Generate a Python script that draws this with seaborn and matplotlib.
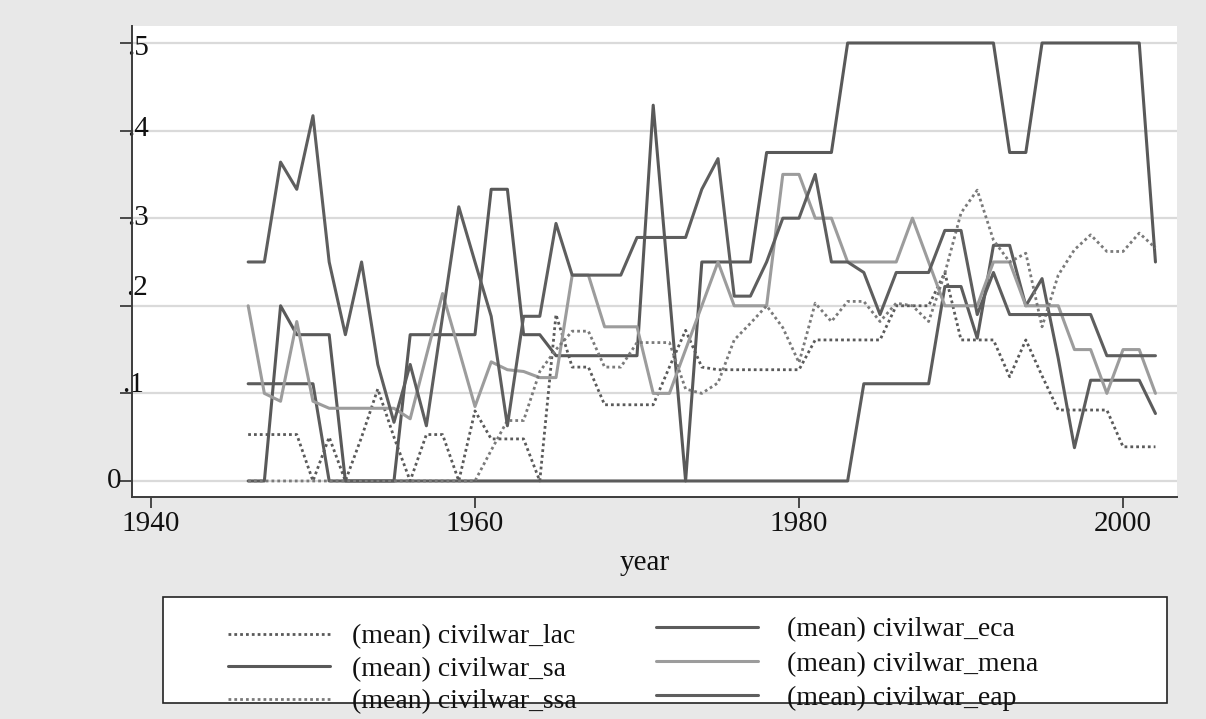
import matplotlib
matplotlib.use("Agg")
import matplotlib.pyplot as plt
import matplotlib.transforms as mtransforms
from matplotlib.lines import Line2D
from matplotlib.patches import Rectangle
import numpy as np
import pandas as pd
import seaborn as sns

# ---- data: yearly regional means of civil war incidence ----
years = list(range(1946, 2003))

civilwar_lac = [0.053, 0.053, 0.053, 0.053, 0.0, 0.05, 0.0, 0.05, 0.105, 0.05,
                0.0, 0.053, 0.053, 0.0, 0.08, 0.048, 0.048, 0.048, 0.0, 0.19,
                0.13, 0.13, 0.087, 0.087, 0.087, 0.087, 0.13, 0.172, 0.13, 0.127,
                0.127, 0.127, 0.127, 0.127, 0.127, 0.161, 0.161, 0.161, 0.161, 0.161,
                0.2, 0.2, 0.2, 0.238, 0.161, 0.161, 0.161, 0.119, 0.161, 0.12,
                0.081, 0.081, 0.081, 0.081, 0.039, 0.039, 0.039]

civilwar_eca = [0.111] * 5 + [0.0] * 33 + [0.111] * 5 + \
               [0.222, 0.222, 0.163, 0.269, 0.269, 0.2, 0.231, 0.14, 0.038,
                0.115, 0.115, 0.115, 0.115, 0.077]

civilwar_sa = [0.0, 0.0, 0.2, 0.167, 0.167, 0.167, 0.0, 0.0, 0.0, 0.0,
               0.167, 0.167, 0.167, 0.167, 0.167, 0.333, 0.333, 0.167, 0.167, 0.143,
               0.143, 0.143, 0.143, 0.143, 0.143, 0.429, 0.214, 0.0, 0.25, 0.25,
               0.25, 0.25, 0.375, 0.375, 0.375, 0.375, 0.375, 0.5, 0.5, 0.5,
               0.5, 0.5, 0.5, 0.5, 0.5, 0.5, 0.5, 0.375, 0.375, 0.5,
               0.5, 0.5, 0.5, 0.5, 0.5, 0.5, 0.25]

civilwar_mena = [0.2, 0.1, 0.091, 0.182, 0.091, 0.083, 0.083, 0.083, 0.083, 0.083,
                 0.071, 0.143, 0.214, 0.15, 0.085, 0.136, 0.127, 0.125, 0.118, 0.118,
                 0.235, 0.235, 0.176, 0.176, 0.176, 0.1, 0.1, 0.15, 0.2, 0.25,
                 0.2, 0.2, 0.2, 0.35, 0.35, 0.3, 0.3, 0.25, 0.25, 0.25,
                 0.25, 0.3, 0.25, 0.2, 0.2, 0.2, 0.25, 0.25, 0.2, 0.2,
                 0.2, 0.15, 0.15, 0.1, 0.15, 0.15, 0.1]

civilwar_ssa = [0.0] * 15 + \
               [0.035, 0.069, 0.069, 0.125, 0.15,
                0.171, 0.171, 0.13, 0.13, 0.158, 0.158, 0.158, 0.105, 0.1, 0.112,
                0.161, 0.18, 0.2, 0.175, 0.135, 0.203, 0.182, 0.205, 0.205, 0.182,
                0.203, 0.2, 0.182, 0.237, 0.306, 0.332, 0.275, 0.25, 0.26, 0.176,
                0.235, 0.264, 0.281, 0.262, 0.262, 0.283, 0.266]

civilwar_eap = [0.25, 0.25, 0.364, 0.333, 0.417, 0.25, 0.167, 0.25, 0.133, 0.067,
                0.133, 0.063, 0.188, 0.313, 0.25, 0.188, 0.063, 0.188, 0.188, 0.294,
                0.235, 0.235, 0.235, 0.235, 0.278, 0.278, 0.278, 0.278, 0.333, 0.368,
                0.211, 0.211, 0.25, 0.3, 0.3, 0.35, 0.25, 0.25, 0.238, 0.19,
                0.238, 0.238, 0.238, 0.286, 0.286, 0.19, 0.238, 0.19, 0.19, 0.19,
                0.19, 0.19, 0.19, 0.143, 0.143, 0.143, 0.143]

series_order = ["lac", "eca", "sa", "mena", "ssa", "eap"]
legend_labels = {k: f"(mean) civilwar_{k}" for k in series_order}
y_ticks = [0.0, 0.1, 0.2, 0.3, 0.4, 0.5]
y_ticklabels = ["0", ".1", ".2", ".3", ".4", ".5"]
x_ticks = [1940, 1960, 1980, 2000]
x_ticklabels = ["1940", "1960", "1980", "2000"]

df = pd.DataFrame({
    "year": years,
    "lac": civilwar_lac,
    "eca": civilwar_eca,
    "sa": civilwar_sa,
    "mena": civilwar_mena,
    "ssa": civilwar_ssa,
    "eap": civilwar_eap,
})
long_df = df.melt(id_vars="year", var_name="region", value_name="civilwar")

# ---- styling ----
sns.set_style("white")
plt.rcParams["font.family"] = ["Liberation Serif", "DejaVu Serif"]
plt.rcParams["axes.unicode_minus"] = False

dot = (0, (1.0, 1.1))
line_styles = {
    "lac":  dict(color="#5a5a5a", linestyle=dot, linewidth=2.0),
    "eca":  dict(color="#5c5c5c", linestyle="-", linewidth=2.2),
    "sa":   dict(color="#595959", linestyle="-", linewidth=2.2),
    "mena": dict(color="#9c9c9c", linestyle="-", linewidth=2.2),
    "ssa":  dict(color="#7a7a7a", linestyle=dot, linewidth=2.0),
    "eap":  dict(color="#5e5e5e", linestyle="-", linewidth=2.2),
}

W, H = 1206, 719
fig = plt.figure(figsize=(W / 100, H / 100), dpi=100, facecolor="#e8e8e8")
px_l, px_r, px_t, px_b = 132, 1177, 26, 497
ax = fig.add_axes([px_l / W, 1 - px_b / H, (px_r - px_l) / W, (px_b - px_t) / H])
ax.set_facecolor("white")

handles = {}
for key in series_order:
    sub = long_df[long_df["region"] == key]
    st = line_styles[key]
    sns.lineplot(data=sub, x="year", y="civilwar", ax=ax, errorbar=None,
                 legend=False, color=st["color"], linestyle=st["linestyle"],
                 linewidth=st["linewidth"])
    handles[key] = Line2D([], [], color=st["color"], linestyle=st["linestyle"],
                          linewidth=st["linewidth"])

ax.set_xlim(1938.83, 2003.33)
ax.set_ylim(-0.0183, 0.5194)

ax.yaxis.grid(True, color="#dadada", linewidth=1.6)
ax.xaxis.grid(False)
ax.set_axisbelow(True)

for side in ("top", "right"):
    ax.spines[side].set_visible(False)
for side in ("left", "bottom"):
    ax.spines[side].set_color("#3c3c3c")
    ax.spines[side].set_linewidth(1.4)

ax.set_xticks(x_ticks)
ax.set_xticklabels(x_ticklabels)
ax.set_yticks(y_ticks)
ax.set_yticklabels(y_ticklabels)
ax.tick_params(axis="both", which="major", direction="out", color="#3c3c3c",
               width=1.3, labelsize=21, labelcolor="#111111")
ax.tick_params(axis="y", left=True, length=8.6, pad=2)
ax.tick_params(axis="x", bottom=True, length=8.0, pad=2)

# individual nudges for the y tick labels (pixels: right, up)
y_offsets = [(4, 3), (27, 11), (31, 21), (32, 3), (32, 5), (32, -2)]
for lab, (dx, dy) in zip(ax.get_yticklabels(), y_offsets):
    lab.set_transform(lab.get_transform() +
                      mtransforms.ScaledTranslation(dx / 100, dy / 100, fig.dpi_scale_trans))

ax.set_xlabel("year", fontsize=21, color="#111111")
ax.set_ylabel("")
ax.xaxis.set_label_coords((645 - px_l) / (px_r - px_l), -(550 - px_b) / (px_b - px_t))
ax.xaxis.label.set_va("top")

# ---- legend: framed box below the plot with two columns of entries ----
box = Rectangle((163 / W, 1 - 703 / H), (1167 - 163) / W, (703 - 597) / H,
                transform=fig.transFigure, facecolor="white", edgecolor="#222222",
                linewidth=1.2, zorder=1)
fig.patches.append(box)

fs_leg = 20
common = dict(frameon=False, fontsize=fs_leg, handlelength=3.67,
              borderpad=0.0, borderaxespad=0.0, loc="upper left")
col1 = ["lac", "sa", "ssa"]
col2 = ["eca", "mena", "eap"]
leg1 = fig.legend([handles[k] for k in col1], [legend_labels[k] for k in col1],
                  bbox_to_anchor=(228 / W, 1 - 624 / H), bbox_transform=fig.transFigure,
                  handletextpad=0.8, labelspacing=0.25, **common)
leg2 = fig.legend([handles[k] for k in col2], [legend_labels[k] for k in col2],
                  bbox_to_anchor=(656 / W, 1 - 617 / H), bbox_transform=fig.transFigure,
                  handletextpad=1.05, labelspacing=0.32, **common)
for lg in (leg1, leg2):
    lg.set_zorder(3)
    for t in lg.get_texts():
        t.set_color("#111111")

fig.savefig("out.png", dpi=100, facecolor=fig.get_facecolor())
